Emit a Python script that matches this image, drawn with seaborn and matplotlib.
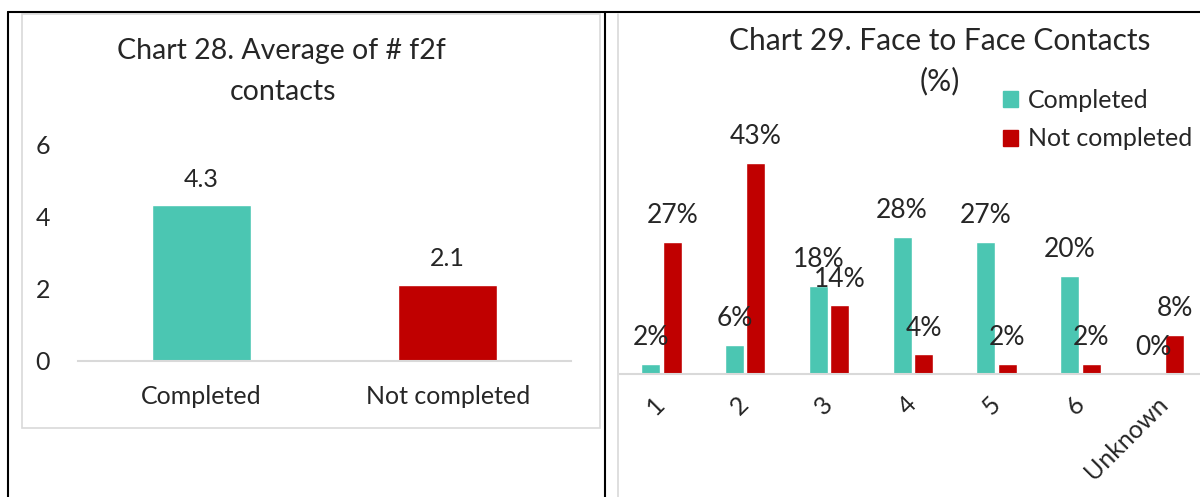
import matplotlib.pyplot as plt
import seaborn as sns
import pandas as pd
from matplotlib.lines import Line2D
from matplotlib.patches import Rectangle, Patch

# chart 28 data
status = ["Completed", "Not completed"]
avg_contacts = [4.3, 2.1]

# chart 29 data (% of clients)
contact_counts = ["1", "2", "3", "4", "5", "6", "Unknown"]
pct_completed = [2, 6, 18, 28, 27, 20, 0]
pct_not_completed = [27, 43, 14, 4, 2, 2, 8]

teal = "#4BC6B2"
red = "#C00000"
W, H = 1200, 497

sns.set_theme(style="white")
plt.rcParams["font.family"] = ["Lato", "DejaVu Sans"]

fig = plt.figure(figsize=(12, 4.97), dpi=100)


def fx(px):
    return px / W


def fy(py):
    return 1 - py / H


# table borders around the two charts
for x0, y0, x1, y1 in [(8, 12, 1200, 12), (8, 12, 8, 497), (605, 12, 605, 497)]:
    fig.add_artist(Line2D([fx(x0), fx(x1)], [fy(y0), fy(y1)], color="black", lw=1.5))
# light chart frames
fig.add_artist(Rectangle((fx(22), fy(428)), fx(600) - fx(22), fy(14) - fy(428),
                         fill=False, edgecolor="#d9d9d9", lw=1.2))
fig.add_artist(Line2D([fx(618), fx(618)], [fy(14), 0], color="#d9d9d9", lw=1.2))

# ---- Chart 28 ----
ax1 = fig.add_axes([fx(78), fy(361), fx(571) - fx(78), fy(144) - fy(361)])
sns.barplot(x=status, y=avg_contacts, hue=status, palette=[teal, red],
            width=0.4, saturation=1, legend=False, ax=ax1)
ax1.set_ylim(0, 6)
ax1.set_xlim(-0.5, 1.5)
ax1.set_yticks([0, 2, 4, 6])
for s in ["top", "right", "left"]:
    ax1.spines[s].set_visible(False)
ax1.spines["bottom"].set_color("#d9d9d9")
ax1.spines["bottom"].set_linewidth(1.5)
ax1.tick_params(axis="y", labelsize=18, pad=20, length=0)
ax1.tick_params(axis="x", labelsize=18, pad=17, length=0)
for c in ax1.containers:
    ax1.bar_label(c, fmt="%.1f", padding=10.5, fontsize=18)
fig.text(fx(281), fy(51), "Chart 28. Average of # f2f", ha="center", va="center", fontsize=20.5)
fig.text(fx(283), fy(92), "contacts", ha="center", va="center", fontsize=20.5)

# ---- Chart 29 ----
df = pd.DataFrame({
    "contacts": contact_counts * 2,
    "pct": pct_completed + pct_not_completed,
    "status": ["Completed"] * len(contact_counts) + ["Not completed"] * len(contact_counts),
})
ax2 = fig.add_axes([fx(619.5), fy(374), 7 * 83.8 / W, fy(129) - fy(374)])
sns.barplot(data=df, x="contacts", y="pct", hue="status", palette=[teal, red],
            width=0.513, gap=0.115, saturation=1, legend=False, ax=ax2)
ax2.set_ylim(0, 50)
ax2.set_xlim(-0.5, 6.5)
ax2.set_yticks([])
ax2.set_xlabel("")
ax2.set_ylabel("")
for s in ["top", "right", "left"]:
    ax2.spines[s].set_visible(False)
ax2.spines["bottom"].set_color("#d9d9d9")
ax2.spines["bottom"].set_linewidth(1.5)
ax2.tick_params(axis="x", labelsize=18, pad=19, length=0)
for lab in ax2.get_xticklabels():
    lab.set_rotation(45)
    lab.set_ha("right")
    lab.set_va("center")
    lab.set_rotation_mode("anchor")
for c in ax2.containers:
    ax2.bar_label(c, fmt="%d%%", padding=10, fontsize=19, clip_on=False)

fig.text(fx(940), fy(41), "Chart 29. Face to Face Contacts", ha="center", va="center", fontsize=21.5)
fig.text(fx(940), fy(81), "(%)", ha="center", va="center", fontsize=21.5)
handles = [Patch(color=teal, label="Completed"), Patch(color=red, label="Not completed")]
fig.legend(handles=handles, loc="upper left", bbox_to_anchor=(fx(1003), fy(89)),
           frameon=False, fontsize=18, handlelength=0.6, handleheight=0.6,
           handletextpad=0.4, labelspacing=0.62, borderpad=0, borderaxespad=0)

fig.savefig("out.png", dpi=100)
